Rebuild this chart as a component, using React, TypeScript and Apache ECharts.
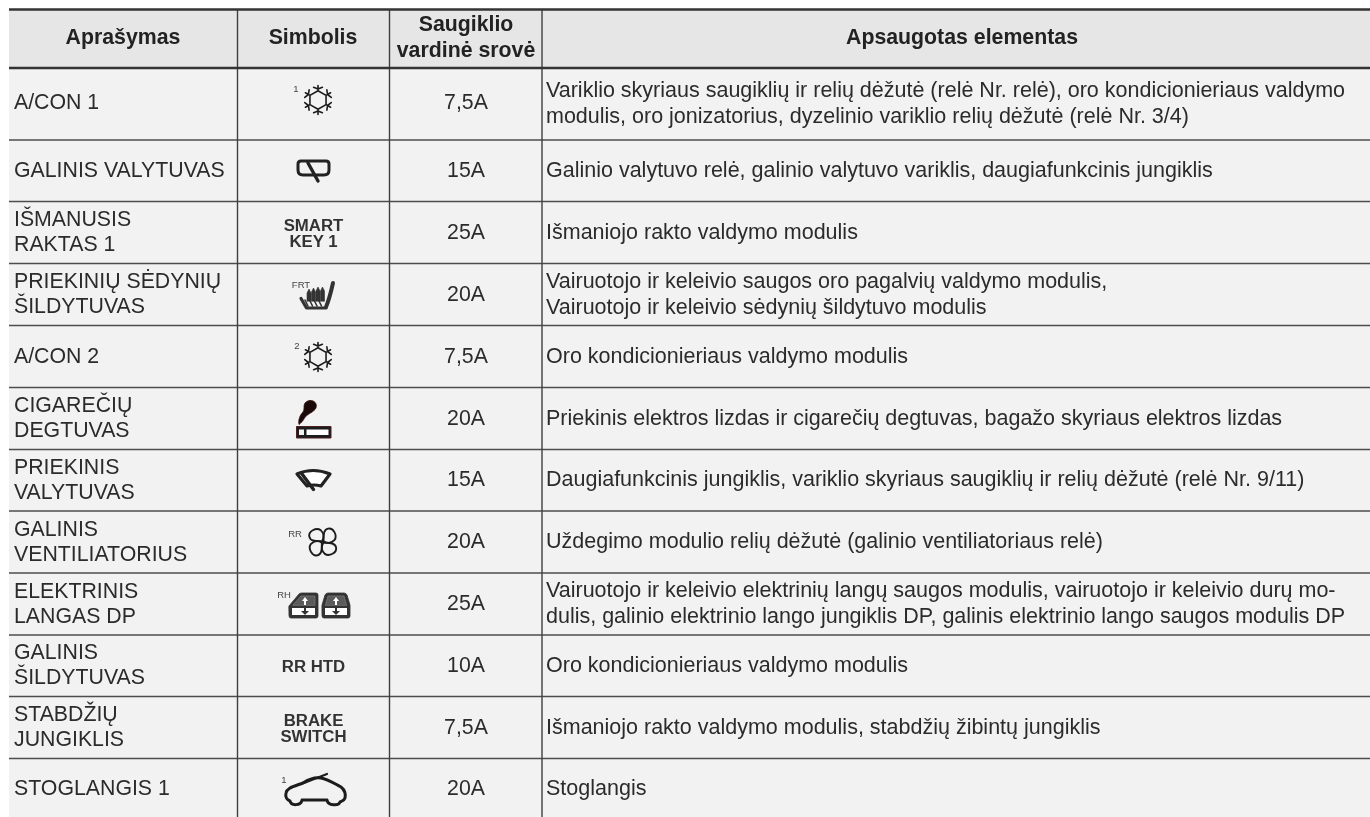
import React, { useEffect, useRef } from "react";
import * as echarts from "echarts";

const headers = ["Aprašymas", "Simbolis", "Saugiklio\nvardinė srovė", "Apsaugotas elementas"];
const descriptions = [
  "A/CON 1",
  "GALINIS VALYTUVAS",
  "IŠMANUSIS\nRAKTAS 1",
  "PRIEKINIŲ SĖDYNIŲ\nŠILDYTUVAS",
  "A/CON 2",
  "CIGAREČIŲ\nDEGTUVAS",
  "PRIEKINIS\nVALYTUVAS",
  "GALINIS\nVENTILIATORIUS",
  "ELEKTRINIS\nLANGAS DP",
  "GALINIS\nŠILDYTUVAS",
  "STABDŽIŲ\nJUNGIKLIS",
  "STOGLANGIS 1",
];
const ratings = ["7,5A", "15A", "25A", "20A", "7,5A", "20A", "15A", "20A", "25A", "10A", "7,5A", "20A"];
const protectedElements = [
  "Variklio skyriaus saugiklių ir relių dėžutė (relė Nr. relė), oro kondicionieriaus valdymo\nmodulis, oro jonizatorius, dyzelinio variklio relių dėžutė (relė Nr. 3/4)",
  "Galinio valytuvo relė, galinio valytuvo variklis, daugiafunkcinis jungiklis",
  "Išmaniojo rakto valdymo modulis",
  "Vairuotojo ir keleivio saugos oro pagalvių valdymo modulis,\nVairuotojo ir keleivio sėdynių šildytuvo modulis",
  "Oro kondicionieriaus valdymo modulis",
  "Priekinis elektros lizdas ir cigarečių degtuvas, bagažo skyriaus elektros lizdas",
  "Daugiafunkcinis jungiklis, variklio skyriaus saugiklių ir relių dėžutė (relė Nr. 9/11)",
  "Uždegimo modulio relių dėžutė (galinio ventiliatoriaus relė)",
  "Vairuotojo ir keleivio elektrinių langų saugos modulis, vairuotojo ir keleivio durų mo-\ndulis, galinio elektrinio lango jungiklis DP, galinis elektrinio lango saugos modulis DP",
  "Oro kondicionieriaus valdymo modulis",
  "Išmaniojo rakto valdymo modulis, stabdžių žibintų jungiklis",
  "Stoglangis",
];
const textSymbols: [number, string][] = [
  [2, "SMART\nKEY 1"],
  [9, "RR HTD"],
  [10, "BRAKE\nSWITCH"],
];
const smallLabels: [string, number, number][] = [
  ["1", 296, 88],
  ["FRT", 301, 284],
  ["2", 297, 345],
  ["RR", 295, 533],
  ["RH", 284, 594],
  ["1", 284, 779],
];

const rowLines = [68, 140, 201.5, 263.5, 325.5, 387.5, 449.5, 511, 573, 635, 696.5, 758.5, 820];
const columnLines = [237.5, 389.5, 542];
const FONT = '"Liberation Sans", Arial, sans-serif';
const INK = "#2b2b2b";
const BODY = 21.3;
const DETAIL = 21.5;
const HEAD = 21.3;

function snowPath() {
  const parts: string[] = [];
  const pt = (a: number, r: number) => `${(r * Math.cos(a)).toFixed(2)} ${(r * Math.sin(a)).toFixed(2)}`;
  for (let k = 0; k < 6; k++) {
    const a = -Math.PI / 2 + (k * Math.PI) / 3;
    const b = a + Math.PI / 3;
    parts.push(`M${pt(a, 9.3)}L${pt(b, 9.3)}`);
    parts.push(`M${pt(a, 9.3)}L${pt(a, 14.5)}`);
    parts.push(`M${pt(a - 0.33, 13.5)}L${pt(a, 11)}L${pt(a + 0.33, 13.5)}`);
  }
  return parts.join("");
}

const shapes: Record<string, string> = {
  snow: snowPath(),
  rearWiperBox: "M301 161H326Q329 161 329 164V170Q329 175 324 175H303Q298 175 298 170V164Q298 161 301 161Z",
  rearWiperArm: "M308 163L318 181",
  seatBack: "M333 283C331 292 329 300 326 307",
  seatBase: "M301 298.500L306.500 308H326",
  seatStripes: "M305 300L308 306M309.500 300L312.500 306M314 300L317 306M318.500 300L321.500 306",
  seatHeat: "M307 301V293L309 289L311 293V301ZM311.500 301V292L313.500 288L315.500 292V301ZM316 301V291L318 287L320 291V301ZM320.500 301V291L322.500 287L324.500 291V301Z",
  cigSmoke: "M310 400.5C316 400 318 406 315 409.5C312 413 307 414 304.5 418C303 421 301 423 299 424.5C298 420 300 415 303 412C305 409 303 406 305 403C306.5 401.5 308 400.5 310 400.5Z",
  frontWiperBlade: "M297 474Q313 467 330 474L321 486Q314 484 307 486Z",
  frontWiperArm: "M302 474L313.500 489.500",
  fanBlade: "M0 -1C-4 -4 -10 -7 -8 -12C-6 -17 3 -16 5 -11C6 -7 4 -3 0 -1Z",
  doorLeft: "M289 606L299 594Q300 593 302 593H316Q318 593 318 595V616Q318 618 316 618H291Q289 618 289 616Z",
  doorRight: "M322 605L325 595Q326 593 328 593H344Q346 593 347 595L350 605V616Q350 618 348 618H324Q322 618 322 616Z",
  doorLeftGlass: "M293 605L301 596H315V605Z",
  doorRightGlass: "M325.500 605L328 596H344L346.500 605Z",
  bandLeft: "M292 608H315V615H292Z",
  bandRight: "M325 608H347V615H325Z",
  arrowsUp: "M305 597L308 601H306V605H304V601H302ZM336 597L339 601H337V605H335V601H333Z",
  arrowsDown: "M304 608H306V611H309L305 615L301 611H304ZM335 608H337V611H340L336 615L332 611H335Z",
  car: "M290 801C287 800 285 797 286 793C287 788 292 787 303 783C309 779 315 777 321 778C328 779 335 784 341 787C345 790 346 795 345 798C344 801 342 801 340 802M327 800H302M340 802C339 806 328 806 327 800M302 800C301 806 291 806 290 801",
  carAntenna: "M304 783L327 774",
};
Object.entries(shapes).forEach(([name, d]) => {
  echarts.graphic.registerShape(name, echarts.graphic.extendPath(d, {}));
});

function icon(type: string, fill: string, stroke: string, lineWidth: number, extra: any = {}) {
  return { type, silent: true, ...extra, style: { fill, stroke, lineWidth, lineJoin: "round", lineCap: "round" } };
}

function text(t: string, x: number, y: number, size: number, opts: any = {}) {
  return {
    type: "text",
    x,
    y,
    silent: true,
    style: {
      text: t,
      fill: opts.fill ?? INK,
      font: `${opts.weight ?? "normal"} ${size}px ${FONT}`,
      fontFamily: FONT,
      fontSize: size,
      fontWeight: opts.weight ?? "normal",
      textAlign: opts.align ?? "left",
      textVerticalAlign: "middle",
      lineHeight: opts.lineHeight ?? 25.5,
    },
  };
}

function buildGraphic() {
  const g: any[] = [];
  g.push({ type: "rect", silent: true, shape: { x: 9, y: 9, width: 1361, height: 59 }, style: { fill: "#e6e6e6" } });
  g.push({ type: "rect", silent: true, shape: { x: 9, y: 68, width: 1361, height: 749 }, style: { fill: "#f2f2f2" } });

  rowLines.slice(1, -1).forEach((y) => {
    g.push({ type: "line", silent: true, shape: { x1: 9, y1: y, x2: 1370, y2: y }, style: { stroke: "#4d4d4d", lineWidth: 1.4 } });
  });
  columnLines.forEach((x) => {
    g.push({ type: "line", silent: true, shape: { x1: x, y1: 9, x2: x, y2: 817 }, style: { stroke: "#3f3f3f", lineWidth: 1.4 } });
  });
  g.push({ type: "line", silent: true, shape: { x1: 9, y1: 9.5, x2: 1370, y2: 9.5 }, style: { stroke: "#333333", lineWidth: 2.6 } });
  g.push({ type: "line", silent: true, shape: { x1: 9, y1: 68, x2: 1370, y2: 68 }, style: { stroke: "#333333", lineWidth: 2.6 } });

  const H = { weight: "bold", align: "center", fill: "#222222" };
  g.push(text(headers[0], 123, 37, HEAD, H));
  g.push(text(headers[1], 313, 37, HEAD, H));
  g.push(text(headers[2], 466, 37, HEAD, { ...H, lineHeight: 26.5 }));
  g.push(text(headers[3], 962, 37, HEAD, H));

  descriptions.forEach((t, i) => {
    const cy = (rowLines[i] + rowLines[i + 1]) / 2 - (i === 0 ? 2 : 1);
    const mid = i === 11 ? 787.5 : cy;
    g.push(text(t, 14, mid, BODY, { lineHeight: 25 }));
    g.push(text(ratings[i], 466, mid, BODY, { align: "center" }));
    g.push(text(protectedElements[i], 546, mid + (i === 0 ? 0.5 : 0), DETAIL, { lineHeight: 26 }));
  });

  textSymbols.forEach(([row, t]) => {
    const cy = (rowLines[row] + rowLines[row + 1]) / 2 + 1;
    g.push(text(t, 313.5, cy, 16.8, { weight: "bold", align: "center", lineHeight: 16.8, fill: "#333333" }));
  });
  smallLabels.forEach(([t, x, y]) => g.push(text(t, x, y, 9.5, { align: "center", lineHeight: 10, fill: "#444444" })));

  g.push(icon("snow", "none", "#1c1c1c", 1.6, { x: 318, y: 100 }));
  g.push(icon("snow", "none", "#1c1c1c", 1.6, { x: 318, y: 357 }));
  g.push(icon("rearWiperBox", "none", "#222222", 3));
  g.push(icon("rearWiperArm", "none", "#222222", 3.4));
  g.push(icon("seatBack", "none", "#333333", 4));
  g.push(icon("seatBase", "none", "#333333", 3.2));
  g.push(icon("seatStripes", "none", "#333333", 1.6));
  g.push(icon("seatHeat", "#333333", "#333333", 0.6));
  g.push(icon("cigSmoke", "#1a0808", "#3a1010", 0.8));
  g.push({ type: "rect", silent: true, shape: { x: 296.5, y: 426.5, width: 34.5, height: 11.5 }, style: { fill: "#1c1c1c", stroke: "#4a2020", lineWidth: 1 } });
  g.push({ type: "rect", silent: true, shape: { x: 299, y: 429.5, width: 5, height: 5.5 }, style: { fill: "#f2f2f2" } });
  g.push({ type: "rect", silent: true, shape: { x: 306.5, y: 429.5, width: 22, height: 5.5 }, style: { fill: "#ffffff" } });
  g.push(icon("frontWiperBlade", "#ffffff", "#222222", 3.2));
  g.push(icon("frontWiperArm", "none", "#222222", 3.4));
  [0, Math.PI / 2, Math.PI, (3 * Math.PI) / 2].forEach((r) => {
    g.push(icon("fanBlade", "none", "#1c1c1c", 1.9, { x: 322.7, y: 542, rotation: r + 0.6 }));
  });
  g.push(icon("doorLeft", "#333333", "#333333", 0.8));
  g.push(icon("doorRight", "#333333", "#333333", 0.8));
  g.push(icon("doorLeftGlass", "#5a5a5a", "#777777", 0.8));
  g.push(icon("doorRightGlass", "#5a5a5a", "#777777", 0.8));
  g.push(icon("bandLeft", "#ffffff", "#ffffff", 0));
  g.push(icon("bandRight", "#ffffff", "#ffffff", 0));
  g.push(icon("arrowsUp", "#ffffff", "#ffffff", 0));
  g.push(icon("arrowsDown", "#333333", "#333333", 0));
  g.push(icon("car", "none", "#1c1c1c", 3));
  g.push(icon("carAntenna", "none", "#1c1c1c", 2.2));
  return g;
}

export default function App() {
  const ref = useRef<HTMLDivElement>(null);
  useEffect(() => {
    const chart = echarts.init(ref.current!, undefined, { renderer: "svg" });
    chart.setOption({ animation: false, backgroundColor: "#ffffff", graphic: { elements: buildGraphic() } });
    return () => chart.dispose();
  }, []);
  return (
    <div
      ref={ref}
      style={{ position: "absolute", left: 0, top: 0, width: 1370, height: 817, overflow: "hidden", filter: "blur(0.35px)" }}
    />
  );
}
